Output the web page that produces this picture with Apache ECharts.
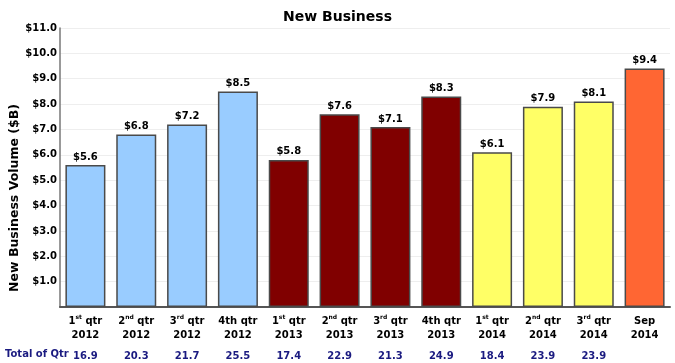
<!DOCTYPE html>
<html><head><meta charset="utf-8">
<script src="https://cdn.jsdelivr.net/npm/echarts@6/dist/echarts.min.js"></script>
<style>html,body{margin:0;padding:0;background:#fff}#c{width:675px;height:363px}</style>
</head><body><div id="c"></div>
<script>
// Data
const quarterNum = ['1', '2', '3', '4th qtr', '1', '2', '3', '4th qtr', '1', '2', '3', 'Sep'];
const quarterSup = ['st', 'nd', 'rd', '', 'st', 'nd', 'rd', '', 'st', 'nd', 'rd', ''];
const years = ['2012','2012','2012','2012','2013','2013','2013','2013','2014','2014','2014','2014'];
const values = [5.6, 6.8, 7.2, 8.5, 5.8, 7.6, 7.1, 8.3, 6.1, 7.9, 8.1, 9.4];
const totals = ['16.9','20.3','21.7','25.5','17.4','22.9','21.3','24.9','18.4','23.9','23.9',''];
const groups = ['a','a','a','a','b','b','b','b','c','c','c','d'];
const yTicks = [1,2,3,4,5,6,7,8,9,10,11];

const groupColor = {a:'#99CCFF', b:'#800000', c:'#FFFF66', d:'#FF6633'};
const font = '"DejaVu Sans", Verdana, sans-serif';

const catLabels = quarterNum.map((q, i) => {
  if (quarterSup[i]) return '{n|' + q + '}{s|' + quarterSup[i] + '}{n| qtr}\n{n|' + years[i] + '}';
  return '{n|' + q + '}\n{n|' + years[i] + '}';
});

const chart = echarts.init(document.getElementById('c'));
chart.setOption({
  animation: false,
  title: {
    text: 'New Business', left: 'center', top: 5,
    textStyle: {fontFamily: font, fontSize: 14, fontWeight: 'bold', color: '#000'}
  },
  graphic: [{
    type: 'text', left: 5, top: 349,
    style: {text: 'Total of Qtr', fontFamily: font, fontSize: 10, fontWeight: 'bold', fill: '#1a1a80'}
  }, {
    type: 'text', x: 8, y: 198, rotation: Math.PI / 2,
    style: {text: 'New Business Volume ($B)', fontFamily: font, fontSize: 12.5, fontWeight: 'bold',
            fill: '#000', align: 'center', verticalAlign: 'top'}
  }],
  grid: {left: 60, right: 5, top: 28, bottom: 56, outerBoundsMode: 'none', containLabel: false},
  xAxis: [{
    type: 'category', data: catLabels,
    axisLine: {lineStyle: {color: '#555', width: 2}},
    axisTick: {show: false},
    axisLabel: {
      interval: 0, margin: 7, color: '#000', align: 'center',
      rich: {
        n: {fontFamily: font, fontSize: 10, fontWeight: 'bold', color: '#000', lineHeight: 14},
        s: {fontFamily: font, fontSize: 6, fontWeight: 'bold', color: '#000', verticalAlign: 'top', lineHeight: 14, padding: [0,0,6,0]}
      }
    }
  }, {
    type: 'category', data: totals, position: 'bottom', offset: 36,
    axisLine: {show: false}, axisTick: {show: false},
    axisLabel: {interval: 0, fontFamily: font, fontSize: 10, fontWeight: 'bold', color: '#1a1a80'}
  }],
  yAxis: {
    type: 'value', min: 0, max: 11, interval: 1,
    axisLine: {show: true, lineStyle: {color: '#777', width: 1.5}},
    axisTick: {show: false},
    axisLabel: {
      fontFamily: font, fontSize: 10, fontWeight: 'bold', color: '#000', margin: 3,
      formatter: v => yTicks.indexOf(v) >= 0 ? '$' + v.toFixed(1) : ''
    },
    splitLine: {lineStyle: {color: '#eeeeee', width: 1}}
  },
  series: [{
    type: 'bar', barWidth: 40,
    data: values.map((v, i) => ({value: v, itemStyle: {color: groupColor[groups[i]]}})),
    itemStyle: {borderColor: '#4a4a4a', borderWidth: 1.5},
    label: {
      show: true, position: 'top', distance: 3,
      fontFamily: font, fontSize: 10, fontWeight: 'bold', color: '#000',
      formatter: p => '$' + p.value.toFixed(1)
    }
  }]
});
</script>
</body></html>
